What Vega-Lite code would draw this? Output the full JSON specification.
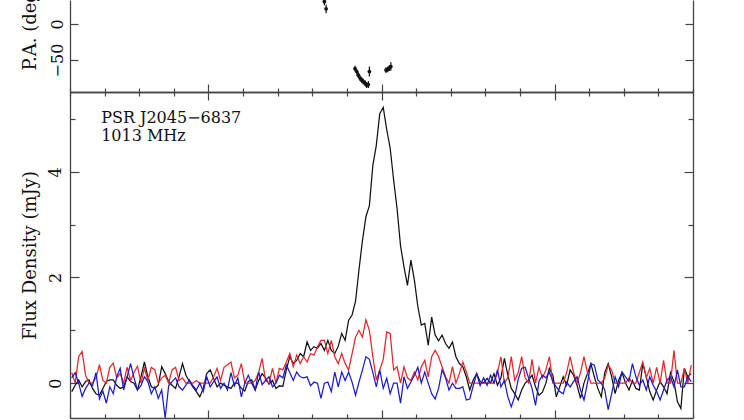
{
  "$schema": "https://vega.github.io/schema/vega-lite/v6.json",
  "autosize": {"type": "none"},
  "padding": {"left": 70, "top": 0, "right": 51, "bottom": 2},
  "params": [{"name": "width", "value": 623}, {"name": "height", "value": 418}],
  "spacing": 0,
  "bounds": "flush",
  "background": "white",
  "config": {
    "view": {"stroke": null},
    "font": "DejaVu Serif",
    "axis": {
      "domainColor": "#444", "domainWidth": 1.3, "tickColor": "#444", "tickWidth": 1.2,
      "labelFont": "DejaVu Serif", "labelFontSize": 16, "labelColor": "#111",
      "titleFont": "DejaVu Serif", "titleFontSize": 18, "titleFontWeight": "normal", "titleColor": "#111",
      "grid": false, "labelFlush": false, "labelOverlap": false
    }
  },
  "datasets": {
    "pa": [
      {"x": -33.0, "pa": 31, "lo": 26, "hi": 36},
      {"x": -32.0, "pa": 21, "lo": 15, "hi": 27},
      {"x": -15.3, "pa": -62, "lo": -66, "hi": -58},
      {"x": -14.3, "pa": -66, "lo": -70, "hi": -62},
      {"x": -13.4, "pa": -71, "lo": -75, "hi": -67},
      {"x": -12.4, "pa": -75, "lo": -79, "hi": -71},
      {"x": -11.4, "pa": -78, "lo": -82, "hi": -74},
      {"x": -10.5, "pa": -80, "lo": -84, "hi": -76},
      {"x": -9.5, "pa": -82, "lo": -86, "hi": -78},
      {"x": -8.6, "pa": -85, "lo": -89, "hi": -81},
      {"x": -7.6, "pa": -84, "lo": -89, "hi": -79},
      {"x": -7.0, "pa": -66, "lo": -73, "hi": -59},
      {"x": 2.6, "pa": -64, "lo": -68, "hi": -60},
      {"x": 3.6, "pa": -63, "lo": -67, "hi": -59},
      {"x": 4.6, "pa": -61, "lo": -65, "hi": -57},
      {"x": 5.4, "pa": -59, "lo": -65, "hi": -53}
    ],
    "lab": [
      {"x": -162, "y": 4.93, "t": "PSR J2045−6837"},
      {"x": -162, "y": 4.59, "t": "1013 MHz"}
    ],
    "prof": [
      {"x":-179,"I":-0.16,"L":0.2,"V":0.1},{"x":-177,"I":-0.04,"L":0.0,"V":0.2},{"x":-175,"I":0.06,"L":0.5,"V":0.0},{"x":-173,"I":-0.07,"L":0.6,"V":-0.25},{"x":-171,"I":0.03,"L":0.15,"V":-0.1},
      {"x":-169,"I":0.06,"L":0.0,"V":0.0},{"x":-167,"I":-0.1,"L":0.0,"V":-0.05},{"x":-165,"I":-0.2,"L":0.1,"V":0.2},{"x":-163,"I":-0.23,"L":0.35,"V":-0.3},{"x":-161,"I":-0.1,"L":0.05,"V":-0.15},
      {"x":-159,"I":0.03,"L":0.0,"V":-0.38},{"x":-157,"I":0.06,"L":0.3,"V":-0.07},{"x":-155,"I":0.06,"L":0.38,"V":-0.2},{"x":-153,"I":-0.04,"L":0.1,"V":0.12},{"x":-151,"I":-0.1,"L":0.18,"V":0.28},
      {"x":-149,"I":-0.07,"L":0.0,"V":-0.13},{"x":-147,"I":0.12,"L":0.3,"V":0.12},{"x":-145,"I":0.03,"L":0.05,"V":0.37},{"x":-143,"I":0.0,"L":0.2,"V":0.1},{"x":-141,"I":-0.13,"L":0.32,"V":-0.13},
      {"x":-139,"I":0.12,"L":0.0,"V":-0.05},{"x":-137,"I":0.4,"L":0.28,"V":0.12},{"x":-135,"I":0.12,"L":0.05,"V":0.03},{"x":-133,"I":-0.07,"L":0.3,"V":-0.2},{"x":-131,"I":-0.1,"L":0.25,"V":-0.07},
      {"x":-129,"I":-0.04,"L":0.0,"V":-0.29},{"x":-127,"I":0.31,"L":0.1,"V":-0.13},{"x":-125,"I":0.18,"L":0.15,"V":-0.66},{"x":-123,"I":0.03,"L":0.0,"V":-0.05},{"x":-121,"I":-0.04,"L":0.25,"V":0.03},
      {"x":-119,"I":-0.1,"L":0.3,"V":0.1},{"x":-117,"I":0.12,"L":0.05,"V":-0.07},{"x":-115,"I":0.37,"L":0.1,"V":-0.13},{"x":-113,"I":0.15,"L":0.0,"V":-0.04},{"x":-111,"I":0.03,"L":0.0,"V":0.06},
      {"x":-109,"I":-0.07,"L":0.0,"V":-0.05},{"x":-107,"I":-0.16,"L":0.05,"V":-0.13},{"x":-105,"I":-0.26,"L":0.0,"V":0.0},{"x":-103,"I":-0.1,"L":0.0,"V":-0.16},{"x":-101,"I":0.18,"L":0.0,"V":0.12},
      {"x":-99,"I":0.25,"L":0.0,"V":-0.07},{"x":-97,"I":0.09,"L":0.12,"V":0.03},{"x":-95,"I":-0.07,"L":0.28,"V":0.12},{"x":-93,"I":0.0,"L":0.05,"V":-0.1},{"x":-91,"I":-0.04,"L":0.3,"V":0.0},
      {"x":-89,"I":-0.07,"L":0.35,"V":-0.13},{"x":-87,"I":-0.1,"L":0.4,"V":0.2},{"x":-85,"I":0.0,"L":0.1,"V":-0.05},{"x":-83,"I":0.0,"L":0.15,"V":0.1},{"x":-81,"I":-0.1,"L":0.37,"V":-0.26},
      {"x":-79,"I":-0.15,"L":0.0,"V":0.0},{"x":-77,"I":0.03,"L":0.0,"V":0.15},{"x":-75,"I":0.06,"L":0.0,"V":0.0},{"x":-73,"I":-0.13,"L":0.05,"V":-0.13},{"x":-71,"I":0.05,"L":0.2,"V":0.21},
      {"x":-69,"I":0.18,"L":0.47,"V":-0.03},{"x":-67,"I":0.1,"L":0.05,"V":0.05},{"x":-65,"I":-0.02,"L":0.0,"V":0.12},{"x":-63,"I":0.05,"L":0.28,"V":-0.07},{"x":-61,"I":-0.1,"L":0.0,"V":0.0},
      {"x":-59,"I":-0.05,"L":0.28,"V":0.15},{"x":-57,"I":-0.06,"L":0.25,"V":0.1},{"x":-55,"I":0.25,"L":0.4,"V":0.34},{"x":-53,"I":0.5,"L":0.56,"V":0.2},{"x":-51,"I":0.37,"L":0.31,"V":0.05},
      {"x":-49,"I":0.43,"L":0.53,"V":0.21},{"x":-47,"I":0.56,"L":0.37,"V":0.12},{"x":-45,"I":0.5,"L":0.5,"V":0.1},{"x":-43,"I":0.78,"L":0.4,"V":0.12},{"x":-41,"I":0.62,"L":0.56,"V":-0.05},
      {"x":-39,"I":0.69,"L":0.53,"V":0.02},{"x":-37,"I":0.66,"L":0.69,"V":0.0},{"x":-35,"I":0.75,"L":0.81,"V":-0.29},{"x":-33,"I":0.62,"L":0.81,"V":0.0},{"x":-31,"I":0.81,"L":0.56,"V":0.02},
      {"x":-29,"I":0.62,"L":0.81,"V":-0.16},{"x":-27,"I":0.56,"L":0.5,"V":0.21},{"x":-25,"I":0.7,"L":0.37,"V":-0.07},{"x":-23,"I":0.94,"L":0.56,"V":0.21},{"x":-21,"I":0.81,"L":0.37,"V":0.05},
      {"x":-19,"I":1.19,"L":0.25,"V":0.21},{"x":-17,"I":1.29,"L":0.56,"V":0.02},{"x":-15,"I":1.55,"L":0.87,"V":-0.23},{"x":-13,"I":2.15,"L":1.0,"V":0.02},{"x":-11,"I":2.7,"L":0.87,"V":0.25},
      {"x":-9,"I":3.15,"L":1.2,"V":0.5},{"x":-7,"I":3.36,"L":1.0,"V":0.45},{"x":-5,"I":4.12,"L":0.5,"V":0.2},{"x":-3,"I":4.5,"L":0.06,"V":-0.07},{"x":-1,"I":5.1,"L":0.25,"V":0.25},
      {"x":1,"I":5.22,"L":0.45,"V":-0.1},{"x":3,"I":4.8,"L":0.97,"V":0.09},{"x":5,"I":4.45,"L":0.94,"V":-0.2},{"x":7,"I":3.85,"L":0.25,"V":0.0},{"x":9,"I":3.3,"L":0.31,"V":0.0},
      {"x":11,"I":2.6,"L":0.0,"V":-0.38},{"x":13,"I":2.2,"L":0.31,"V":0.12},{"x":15,"I":1.85,"L":0.1,"V":-0.1},{"x":17,"I":2.33,"L":0.05,"V":0.02},{"x":19,"I":1.95,"L":0.21,"V":0.15},
      {"x":21,"I":1.45,"L":0.06,"V":0.3},{"x":23,"I":1.1,"L":0.31,"V":0.0},{"x":25,"I":1.13,"L":0.43,"V":0.21},{"x":27,"I":0.72,"L":0.12,"V":0.0},{"x":29,"I":1.25,"L":0.5,"V":-0.2},
      {"x":31,"I":0.91,"L":0.62,"V":-0.3},{"x":33,"I":0.8,"L":0.5,"V":-0.1},{"x":35,"I":0.91,"L":0.31,"V":0.25},{"x":37,"I":0.75,"L":0.12,"V":0.1},{"x":39,"I":0.66,"L":0.0,"V":-0.13},
      {"x":41,"I":0.78,"L":0.31,"V":0.0},{"x":43,"I":0.5,"L":0.0,"V":-0.1},{"x":45,"I":0.37,"L":0.18,"V":-0.1},{"x":47,"I":0.31,"L":0.4,"V":-0.07},{"x":49,"I":0.12,"L":0.21,"V":-0.32},
      {"x":51,"I":-0.13,"L":0.0,"V":-0.3},{"x":53,"I":0.06,"L":0.0,"V":-0.05},{"x":55,"I":0.18,"L":0.0,"V":0.18},{"x":57,"I":0.03,"L":0.0,"V":-0.05},{"x":59,"I":0.0,"L":0.0,"V":0.1},
      {"x":61,"I":0.09,"L":0.0,"V":-0.04},{"x":63,"I":0.0,"L":0.0,"V":0.15},{"x":65,"I":0.18,"L":0.0,"V":0.0},{"x":67,"I":-0.04,"L":0.2,"V":0.25},{"x":69,"I":0.1,"L":0.5,"V":-0.07},
      {"x":71,"I":0.47,"L":0.0,"V":0.05},{"x":73,"I":0.15,"L":0.1,"V":-0.26},{"x":75,"I":-0.1,"L":0.5,"V":-0.45},{"x":77,"I":-0.2,"L":0.05,"V":-0.25},{"x":79,"I":-0.32,"L":0.2,"V":0.07},
      {"x":81,"I":-0.13,"L":0.5,"V":0.28},{"x":83,"I":0.0,"L":0.1,"V":0.3},{"x":85,"I":0.06,"L":0.0,"V":0.1},{"x":87,"I":0.15,"L":0.45,"V":-0.1},{"x":89,"I":-0.07,"L":0.0,"V":-0.42},
      {"x":91,"I":-0.23,"L":0.3,"V":0.03},{"x":93,"I":-0.17,"L":0.1,"V":0.15},{"x":95,"I":0.0,"L":0.25,"V":0.1},{"x":97,"I":0.28,"L":0.5,"V":0.21},{"x":99,"I":0.15,"L":0.0,"V":0.03},
      {"x":101,"I":-0.26,"L":0.0,"V":-0.07},{"x":103,"I":-0.07,"L":0.0,"V":-0.16},{"x":105,"I":0.12,"L":0.0,"V":-0.2},{"x":107,"I":-0.04,"L":0.2,"V":0.02},{"x":109,"I":0.25,"L":0.5,"V":-0.07},
      {"x":111,"I":0.15,"L":0.2,"V":0.03},{"x":113,"I":-0.04,"L":0.0,"V":0.12},{"x":115,"I":-0.29,"L":0.2,"V":-0.13},{"x":117,"I":0.0,"L":0.5,"V":-0.32},{"x":119,"I":0.18,"L":0.2,"V":0.0},
      {"x":121,"I":0.37,"L":0.0,"V":0.37},{"x":123,"I":0.12,"L":0.0,"V":0.34},{"x":125,"I":-0.1,"L":0.0,"V":0.06},{"x":127,"I":-0.26,"L":0.0,"V":0.0},{"x":129,"I":0.2,"L":0.1,"V":-0.13},
      {"x":131,"I":0.37,"L":0.34,"V":-0.5},{"x":133,"I":0.12,"L":0.25,"V":-0.2},{"x":135,"I":-0.2,"L":0.0,"V":0.12},{"x":137,"I":0.05,"L":0.0,"V":-0.07},{"x":139,"I":0.2,"L":0.0,"V":0.21},
      {"x":141,"I":0.0,"L":0.0,"V":0.12},{"x":143,"I":-0.13,"L":0.1,"V":0.03},{"x":145,"I":0.05,"L":0.0,"V":0.37},{"x":147,"I":-0.1,"L":0.0,"V":0.12},{"x":149,"I":-0.13,"L":0.2,"V":-0.04},
      {"x":151,"I":0.37,"L":0.4,"V":0.06},{"x":153,"I":0.12,"L":0.1,"V":-0.13},{"x":155,"I":-0.16,"L":0.28,"V":0.12},{"x":157,"I":-0.32,"L":0.0,"V":-0.04},{"x":159,"I":-0.13,"L":0.3,"V":-0.16},
      {"x":161,"I":0.03,"L":0.0,"V":-0.32},{"x":163,"I":-0.07,"L":0.43,"V":-0.13},{"x":165,"I":-0.2,"L":0.0,"V":0.06},{"x":167,"I":0.2,"L":0.0,"V":0.12},{"x":169,"I":0.03,"L":0.62,"V":-0.07},
      {"x":171,"I":-0.35,"L":0.0,"V":0.25},{"x":173,"I":-0.48,"L":0.0,"V":-0.07},{"x":175,"I":0.28,"L":0.28,"V":-0.07},{"x":177,"I":0.12,"L":0.0,"V":0.12},{"x":179,"I":0.18,"L":0.34,"V":0.03}
    ]
  },
  "vconcat": [
    {
      "width": 623,
      "height": 92,
      "resolve": {"axis": {"x": "independent", "y": "independent"}},
      "layer": [
        {
          "data": {"name": "pa"},
          "mark": {"type": "rule", "color": "#111", "strokeWidth": 1.2, "clip": true},
          "encoding": {
            "x": {"field": "x", "type": "quantitative",
              "scale": {"domain": [-180, 180], "nice": false, "zero": false},
              "axis": {"orient": "bottom", "values": [-180,-160,-140,-120,-100,-80,-60,-40,-20,0,20,40,60,80,100,120,140,160,180],
                "labels": false, "title": null,
                "tickSize": {"condition": {"test": "datum.value % 100 === 0", "value": -8}, "value": -4}}},
            "y": {"field": "lo", "type": "quantitative",
              "scale": {"domain": [-94.4, 33.3], "nice": false, "zero": false},
              "axis": {"orient": "left", "values": [-50, 0], "tickSize": -8, "labelAngle": -90,
                "labelAlign": "center", "labelBaseline": "alphabetic", "labelPadding": 16,
                "title": "P.A. (deg)", "titleAngle": -90, "titleX": -35, "titleY": 70,
                "titleAlign": "left", "titleBaseline": "alphabetic"}},
            "y2": {"field": "hi"}
          }
        },
        {
          "data": {"name": "pa"},
          "mark": {"type": "circle", "color": "#111", "size": 14, "opacity": 1, "clip": true},
          "encoding": {
            "x": {"field": "x", "type": "quantitative",
              "scale": {"domain": [-180, 180], "nice": false, "zero": false}, "axis": null},
            "y": {"field": "pa", "type": "quantitative",
              "scale": {"domain": [-94.4, 33.3], "nice": false, "zero": false},
              "axis": {"orient": "right", "values": [-50, 0], "tickSize": -8, "labels": false, "title": null}}
          }
        }
      ]
    },
    {
      "width": 623,
      "height": 326,
      "resolve": {"axis": {"x": "independent", "y": "independent"}},
      "layer": [
        {
          "data": {"name": "prof"},
          "transform": [{"fold": ["I", "L", "V"], "as": ["s", "v"]}],
          "mark": {"type": "line", "strokeWidth": 1.25, "clip": true},
          "encoding": {
            "x": {"field": "x", "type": "quantitative",
              "scale": {"domain": [-180, 180], "nice": false, "zero": false},
              "axis": {"orient": "bottom", "values": [-180,-160,-140,-120,-100,-80,-60,-40,-20,0,20,40,60,80,100,120,140,160,180],
                "labels": false, "title": null,
                "tickSize": {"condition": {"test": "datum.value % 100 === 0", "value": -8}, "value": -4}}},
            "y": {"field": "v", "type": "quantitative",
              "scale": {"domain": [-0.66, 5.51], "nice": false, "zero": false},
              "axis": {"orient": "left", "values": [0, 1, 2, 3, 4, 5],
                "labelExpr": "datum.value % 2 === 0 ? datum.label : ''",
                "tickSize": {"condition": {"test": "datum.value % 2 === 0", "value": -9}, "value": -5},
                "labelAngle": -90, "labelAlign": "center", "labelBaseline": "alphabetic", "labelPadding": 19,
                "title": "Flux Density (mJy)", "titleAngle": -90, "titleX": -35, "titleY": 163,
                "titleAlign": "center", "titleBaseline": "alphabetic"}},
            "color": {"field": "s", "type": "nominal",
              "scale": {"domain": ["I", "L", "V"], "range": ["#111111", "#e3262b", "#1c1ccc"]},
              "legend": null}
          }
        },
        {
          "data": {"name": "lab"},
          "mark": {"type": "text", "align": "left", "baseline": "alphabetic", "font": "DejaVu Serif", "fontSize": 16, "color": "#111"},
          "encoding": {
            "x": {"field": "x", "type": "quantitative",
              "scale": {"domain": [-180, 180], "nice": false, "zero": false},
              "axis": {"orient": "top", "values": [-180,-160,-140,-120,-100,-80,-60,-40,-20,0,20,40,60,80,100,120,140,160,180],
                "labels": false, "title": null,
                "tickSize": {"condition": {"test": "datum.value % 100 === 0", "value": -8}, "value": -4}}},
            "y": {"field": "y", "type": "quantitative",
              "scale": {"domain": [-0.66, 5.51], "nice": false, "zero": false},
              "axis": {"orient": "right", "values": [0, 1, 2, 3, 4, 5], "labels": false, "title": null,
                "tickSize": {"condition": {"test": "datum.value % 2 === 0", "value": -9}, "value": -5}}},
            "text": {"field": "t"}
          }
        }
      ]
    }
  ]
}
